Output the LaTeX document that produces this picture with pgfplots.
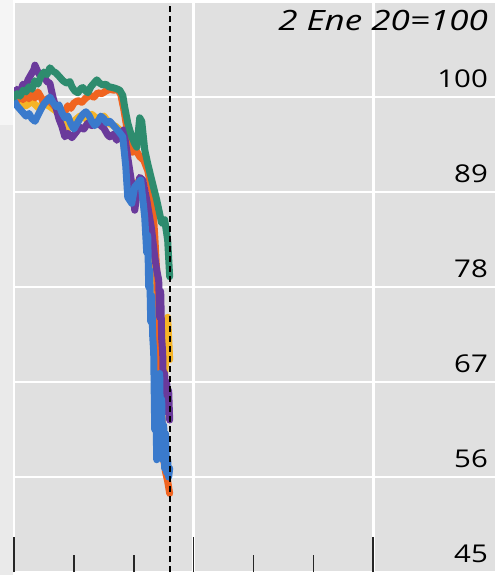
\documentclass[border=0pt]{standalone}
\usepackage{graphicx}
\usepackage{fontspec}
\setmainfont{Open Sans}
\usepackage{pgfplots}
\pgfplotsset{compat=1.18}
\definecolor{plotbg}{RGB}{224,224,224}
\definecolor{stripA}{RGB}{245,245,245}
\definecolor{stripB}{RGB}{234,234,234}
\definecolor{cgreen}{RGB}{46,140,110}
\definecolor{corange}{RGB}{240,100,32}
\definecolor{cpurple}{RGB}{106,58,155}
\definecolor{cblue}{RGB}{58,122,204}
\definecolor{cyellow}{RGB}{245,180,40}
\begin{document}
\begin{tikzpicture}[x=1pt,y=1pt]
\useasboundingbox (0,0) rectangle (495,575);
\fill[white] (0,0) rectangle (495,575);
\fill[stripB] (0,0) rectangle (13,450);
\fill[stripA] (0,450) rectangle (13,575);
\begin{axis}[
  at={(14pt,3pt)}, anchor=south west,
  width=481pt, height=569pt, scale only axis,
  xmin=0, xmax=241, ymin=45, ymax=110.9,
  axis background/.style={fill=plotbg},
  axis line style={draw=none},
  xtick={0,90,180}, minor xtick={30,60,120,150},
  xticklabels={},
  xtick pos=lower, tick align=inside,
  major tick length=35pt, minor tick length=17pt,
  xtick style={draw=black!85, line width=1.6pt},
  minor tick style={draw=black!85, line width=1.6pt},
  ytick={45,56,67,78,89,100},
  ytick style={draw=none},
  yticklabel pos=right,
  /pgf/number format/assume math mode=true,
  yticklabel style={anchor=south east, inner sep=0pt, xshift=-7pt, yshift=9pt,
     font=\fontsize{24.5}{24.5}\selectfont, text=black},
  yticklabel={\scalebox{1.2}[1]{\pgfmathprintnumber[assume math mode=true]{\tick}}},
  xmajorgrids, ymajorgrids,
  major grid style={white, line width=2.5pt},
  clip=true,
  every axis plot/.append style={line width=7pt, line join=round, line cap=round},
]
% yellow
\addplot[cyellow] coordinates {
(0,100) (3,99.4) (6,99.0) (9,99.5) (12,98.8) (15,99.3) (18,98.9) (21,98.4) (24,97.6)
(27,96.4) (30,97.2) (33,97.8) (36,97.5) (39,98.0) (42,97.4) (45,97.8) (48,96.9) (51,96.6)
(54,96.0) (56,93) (58,89.5) (60,88.7) (62,90.2) (64,89.3) (66,86) (68,83) (70,80)
(72,76) (74,72) (75.5,68) (76.5,71) (77,74.5) (78,69.6)};
% orange
\addplot[corange] coordinates {
(0,100) (1.5,99.6) (3,100.2) (4.5,99.7) (6,100.3) (7.5,99.8) (9,100.4) (10.5,99.9)
(12,100.6) (13.5,100.0) (15,99.3) (16.5,99.8) (18,99.5) (20,99.0) (22,98.6) (24,98.0)
(25.5,98.3) (27,99.0) (28.5,98.7) (30,99.3) (32,99.6) (34,99.4) (36,99.9) (38,100.2)
(40,100.0) (42,100.5) (44,100.4) (46,100.7) (48,100.9) (50,100.8) (52,100.9) (53.5,100.3)
(55,98.6) (56.5,96.5) (58,94.5) (59.5,93.6) (61,93.9) (63,93.1) (65,92.7) (67,91.5)
(69,89.2) (70.5,84.0) (72,77.7) (73,70.4) (74,64) (75,58) (76,56.5) (77,55.5) (78,54.1)};
% purple
\addplot[cpurple] coordinates {
(0,100.3) (1.5,100.9) (3,100.5) (4.5,101.5) (6,101.2) (7,102.0) (8.5,102.6) (10,103.2)
(10.5,103.7) (12,102.9) (13.5,102.3) (15,102.5) (16.5,101.8) (18,101.6) (19.5,100.0)
(21,98.8) (22.5,97.5) (24,96.6) (25.5,95.4) (27,95.8) (29,95.3) (31,95.9) (33,96.5)
(35,96.3) (37,97.0) (39,96.7) (41,97.1) (43,96.8) (45,96.4) (47,95.6) (48,95.4) (50,95.7)
(51.5,95.0) (53,95.6) (55,96.2) (57,93.0) (59,90.0) (60.5,86.9) (62,89.5) (63,90.7)
(64.5,90.4) (66.5,88.1) (69,84.6) (70.5,81.5) (71.5,80.0) (72.5,78.8) (73,74.5) (73.5,77.5)
(74,72) (74.5,70.4) (75,64.1) (75.5,68) (76,65) (76.5,67) (77,63.5) (77.5,66) (78,62.6)};
% blue
\addplot[cblue] coordinates {
(0,99.6) (1.5,99.0) (3,98.6) (4.5,98.2) (6,97.8) (7.5,98.1) (9,97.5) (10.5,97.2)
(12,97.9) (13.5,98.6) (15,99.2) (16.5,99.6) (18,100.0) (19.5,99.4) (21,98.9) (22.5,99.1)
(24,98.2) (25.5,97.6) (27,97.8) (28.5,96.9) (30,96.3) (31.5,96.9) (33,97.5) (34.5,98.0)
(36,98.3) (37.5,97.9) (39,97.2) (40.5,96.7) (42,97.1) (43.5,97.8) (45,97.5) (46.5,97.0)
(48,97.2) (49.5,96.8) (51,96.4) (52.5,96.0) (54.5,95.4) (56,92.0) (57,88.4) (59,87.7)
(60.5,89.6) (62,90.0) (63.5,90.4) (65.5,86.1) (66.5,82) (67,84) (67.5,78) (68,80)
(68.5,74) (69,77) (69.5,72.3) (70,70.4) (70.5,61.5) (71,66) (71.5,58) (72,64) (72.5,59)
(73,68) (73.5,60) (74,65) (74.5,58) (75,62) (75.5,57) (76,61) (76.5,56.5) (77,58)
(77.5,56) (78,57)};
% green
\addplot[cgreen] coordinates {
(0,100) (1.5,100.4) (3,100.1) (4.5,100.8) (6,100.6) (7.5,101.2) (9,100.9) (10.5,101.9)
(12,101.5) (13.5,102.4) (15,102.9) (16.5,102.6) (18,103.4) (19.5,103.0) (21,102.8)
(23,102.3) (24.5,101.9) (26.5,101.6) (28,101.8) (29,101.2) (30.5,100.7) (32,100.5)
(33.5,101.0) (34.5,101.1) (36,100.7) (37,100.5) (38.5,101.2) (40,101.6) (41.5,102.0)
(43,101.6) (44.5,101.4) (46,101.5) (47.5,101.2) (49.5,101.1) (51,101.0) (53,100.8)
(54.5,100.2) (55.5,98.8) (57,97.0) (59,95.4) (60.5,94.6) (61.5,94.2) (63,97.6) (64,97.2)
(65.5,93.9) (67,92.3) (69,90.4) (71.5,88.1) (74,85.4) (75.5,85.8) (77,83.4) (78,79.2)};
% reference line
\addplot[black, line width=2pt, line cap=butt, dash pattern=on 6pt off 4pt] coordinates {(78.2,45) (78.2,110.9)};
\node[anchor=north east, inner sep=0pt, font=\fontsize{28}{28}\selectfont\itshape, text=black]
  at (rel axis cs:1,1) [xshift=-7pt, yshift=-7pt] {\scalebox{1.25}[1]{2 Ene 20=100}};
\end{axis}
\end{tikzpicture}
\end{document}
